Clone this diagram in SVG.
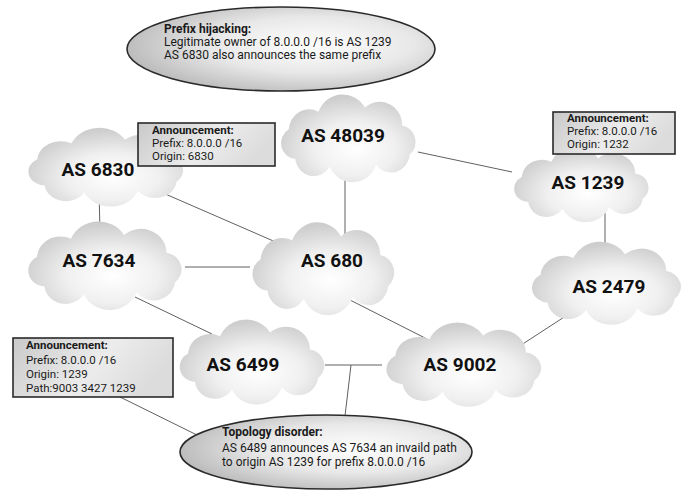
<svg xmlns="http://www.w3.org/2000/svg" xmlns:xlink="http://www.w3.org/1999/xlink" width="686" height="490" viewBox="0 0 686 490">
<style>
.t{font-family:Roboto,"Liberation Sans",sans-serif;font-size:11.5px;fill:#1a1a1a}
.b{font-weight:bold}
.lbl{font-family:Roboto,"Liberation Sans",sans-serif;font-size:19px;font-weight:bold;fill:#111;text-anchor:middle}
.con line{stroke:#606060;stroke-width:1}
.cloud{fill:url(#cg)}
.box{fill:url(#bg);stroke:#2a2a2a;stroke-width:1.6}
.ell{fill:url(#eg);stroke:#2a2a2a;stroke-width:1.6}
</style>
<defs>
<radialGradient id="cg" cx="0.55" cy="0.62" r="0.6">
<stop offset="0" stop-color="#ffffff"/>
<stop offset="0.5" stop-color="#f0f0f0"/>
<stop offset="1" stop-color="#cdcdcd"/>
</radialGradient>
<radialGradient id="eg" cx="0.6" cy="0.45" r="0.6">
<stop offset="0" stop-color="#ffffff"/>
<stop offset="0.55" stop-color="#e8e8e8"/>
<stop offset="1" stop-color="#bdbdbd"/>
</radialGradient>
<linearGradient id="bg" x1="0" y1="0" x2="1" y2="0.3">
<stop offset="0" stop-color="#c9c9c9"/>
<stop offset="0.6" stop-color="#ececec"/>
<stop offset="1" stop-color="#dcdcdc"/>
</linearGradient>
<path id="cloud" d="M25,62 A16,16 0 0 1 18,32 A22,22 0 0 1 50,14 A28,28 0 0 1 100,10 A24,24 0 0 1 140,28 A17,17 0 0 1 148,58 A20,20 0 0 1 112,68 A27,27 0 0 1 62,70 A20,20 0 0 1 25,62 Z"/>
</defs>
<rect width="686" height="490" fill="#ffffff"/>
<g id="connectors" class="con">
<line x1="99" y1="190" x2="100" y2="232"/>
<line x1="163" y1="193" x2="278" y2="243"/>
<line x1="345" y1="168" x2="345" y2="238"/>
<line x1="418" y1="152" x2="512" y2="172"/>
<line x1="605" y1="205" x2="605" y2="250"/>
<line x1="185" y1="267" x2="250" y2="267"/>
<line x1="135" y1="297" x2="212" y2="334"/>
<line x1="350" y1="300" x2="427" y2="339"/>
<line x1="575" y1="310" x2="515" y2="349"/>
<line x1="325" y1="365" x2="382" y2="365"/>
<line x1="351" y1="365" x2="345" y2="416"/>
<line x1="118" y1="396" x2="199" y2="436"/>
</g>
<g id="hijack-note">
<ellipse class="ell" cx="281" cy="49" rx="154" ry="42"/>
<text class="t b" x="164" y="33" style="font-size:12px">Prefix hijacking:</text>
<text class="t" x="164" y="46" style="font-size:12px">Legitimate owner of 8.0.0.0 /16 is AS 1239</text>
<text class="t" x="164" y="59" style="font-size:12px">AS 6830 also announces the same prefix</text>
</g>
<g id="as6830">
<use href="#cloud" class="cloud" transform="translate(18,131) scale(1.07,0.88)"/>
<text class="lbl" x="98" y="176">AS 6830</text>
</g>
<g id="as48039">
<use href="#cloud" class="cloud" transform="translate(272,98) scale(0.93,0.98)"/>
<text class="lbl" x="343" y="142">AS 48039</text>
</g>
<g id="ann-6830">
<rect class="box" x="138" y="123" width="137" height="43"/>
<text class="t b" x="152" y="134">Announcement:</text>
<text class="t" x="152" y="147">Prefix: 8.0.0.0 /16</text>
<text class="t" x="152" y="160">Origin: 6830</text>
</g>
<g id="as1239">
<use href="#cloud" class="cloud" transform="translate(505,150) scale(0.93,0.84)"/>
<text class="lbl" x="588" y="189">AS 1239</text>
</g>
<g id="ann-1239">
<rect class="box" x="553" y="112" width="122" height="42"/>
<text class="t b" x="567" y="122">Announcement:</text>
<text class="t" x="567" y="135">Prefix: 8.0.0.0 /16</text>
<text class="t" x="567" y="148">Origin: 1232</text>
</g>
<g id="as7634">
<use href="#cloud" class="cloud" transform="translate(18,225) scale(1.06,0.99)"/>
<text class="lbl" x="99" y="267">AS 7634</text>
</g>
<g id="as680">
<use href="#cloud" class="cloud" transform="translate(243,226) scale(0.98,1.04)"/>
<text class="lbl" x="332" y="267">AS 680</text>
</g>
<g id="as2479">
<use href="#cloud" class="cloud" transform="translate(522,245) scale(1.03,0.93)"/>
<text class="lbl" x="609" y="293">AS 2479</text>
</g>
<g id="as6499">
<use href="#cloud" class="cloud" transform="translate(170,323) scale(1.0,0.95)"/>
<text class="lbl" x="243" y="371">AS 6499</text>
</g>
<g id="as9002">
<use href="#cloud" class="cloud" transform="translate(376,326) scale(1.07,0.94)"/>
<text class="lbl" x="460" y="371">AS 9002</text>
</g>
<g id="ann-path">
<rect class="box" x="13" y="338" width="160" height="59"/>
<text class="t b" x="26" y="349">Announcement:</text>
<text class="t" x="26" y="364">Prefix: 8.0.0.0 /16</text>
<text class="t" x="26" y="378">Origin: 1239</text>
<text class="t" x="26" y="392">Path:9003 3427 1239</text>
</g>
<g id="topology-note">
<ellipse class="ell" cx="326" cy="452" rx="146" ry="37"/>
<text class="t b" x="222" y="436" style="font-size:12px">Topology disorder:</text>
<text class="t" x="222" y="452" style="font-size:12px">AS 6489 announces AS 7634 an invaild path</text>
<text class="t" x="222" y="466" style="font-size:12px">to origin AS 1239 for prefix 8.0.0.0 /16</text>
</g>
</svg>
